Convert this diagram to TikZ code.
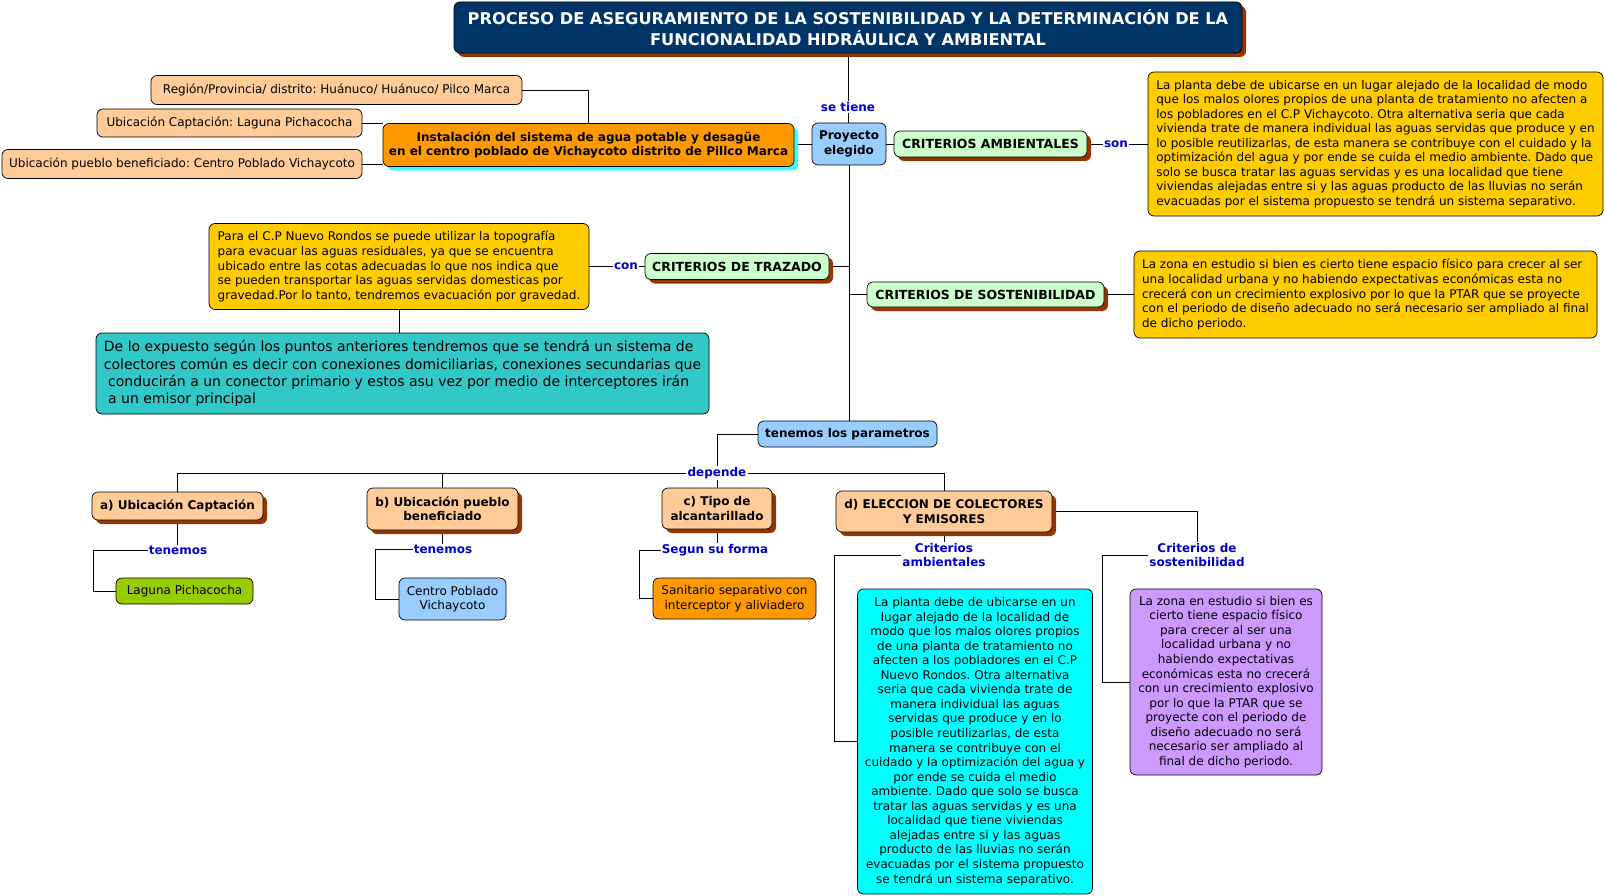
\documentclass[tikz,border=0pt]{standalone}
\usepackage{fontspec}
\setmainfont{DejaVu Sans}
\usetikzlibrary{shadows,backgrounds,calc}
\frenchspacing
\definecolor{navy}{HTML}{003366}
\definecolor{peach}{HTML}{FFCC99}
\definecolor{orng}{HTML}{FF9900}
\definecolor{lblue}{HTML}{99CCFF}
\definecolor{lgreen}{HTML}{CCFFCC}
\definecolor{gold}{HTML}{FFCC00}
\definecolor{tealc}{HTML}{33C8C8}
\definecolor{ygreen}{HTML}{99CC00}
\definecolor{cyanc}{HTML}{00FFFF}
\definecolor{purp}{HTML}{CC99FF}
\definecolor{shbrown}{HTML}{993300}
\definecolor{shcyan}{HTML}{33FFFF}
\definecolor{lblcol}{HTML}{0000CC}
\newcommand{\ftxt}{\fontsize{12}{14.55}\selectfont\frenchspacing}
\newcommand{\fbig}{\fontsize{14}{17.1}\selectfont\frenchspacing}
\newcommand{\fbold}{\fontsize{12}{14.5}\selectfont\bfseries}
\newcommand{\fcaps}{\fontsize{12.5}{14.5}\selectfont\bfseries}
\newcommand{\ftitle}{\fontsize{16.2}{20.5}\selectfont\bfseries}
\newcommand{\flbl}{\fontsize{12}{14.3}\selectfont\bfseries}
\tikzset{
  box/.style={draw=black, line width=0.7pt, rounded corners=6pt, align=center, inner sep=2pt, font=\fbold},
  tbox/.style={box, font=\ftxt},
  bshadow/.style={drop shadow={shadow xshift=4pt, shadow yshift=-4pt, fill=shbrown, opacity=1}},
  cshadow/.style={drop shadow={shadow xshift=4pt, shadow yshift=-4pt, fill=shcyan, opacity=1}},
  lbl/.style={fill=white, text=lblcol, font=\flbl, inner sep=1pt, align=center},
  link/.style={draw=black, line width=0.7pt},
}
\begin{document}
\begin{tikzpicture}[x=1pt,y=-1pt]
\useasboundingbox (0,0) rectangle (1605,896);
% title
\node[box, fill=navy, text=white, font=\ftitle, minimum width=788pt, minimum height=51pt, bshadow] (title) at (848,27.5)
 {PROCESO DE ASEGURAMIENTO DE LA SOSTENIBILIDAD Y LA DETERMINACIÓN DE LA\\FUNCIONALIDAD HIDRÁULICA Y AMBIENTAL};
% top left
\node[tbox, fill=peach, minimum width=371pt, minimum height=29pt] (region) at (336.5,90) {Región/Provincia/ distrito: Huánuco/ Huánuco/ Pilco Marca};
\node[tbox, fill=peach, minimum width=265pt, minimum height=28pt] (ucapt) at (229.5,123) {Ubicación Captación: Laguna Pichacocha};
\node[tbox, fill=peach, minimum width=360pt, minimum height=29pt] (upueblo) at (182,164) {Ubicación pueblo beneficiado: Centro Poblado Vichaycoto};
\node[box, fill=orng, minimum width=411pt, minimum height=43pt, cshadow] (instal) at (588.5,145)
 {Instalación del sistema de agua potable y desagüe\\en el centro poblado de Vichaycoto distrito de Pillco Marca};
\node[box, fill=lblue, minimum width=74pt, minimum height=42pt] (proy) at (849,144) {Proyecto\\elegido};
\node[box, fill=lgreen, font=\fcaps, minimum width=193pt, minimum height=26pt, bshadow] (critamb) at (990.5,144) {CRITERIOS AMBIENTALES};
\node[tbox, fill=gold, align=left, minimum width=455pt, minimum height=144pt] (ambtext) at (1375.5,144)
 {La planta debe de ubicarse en un lugar alejado de la localidad de modo\\
  que los malos olores propios de una planta de tratamiento no afecten a\\
  los pobladores en el C.P Vichaycoto. Otra alternativa seria que cada\\
  vivienda trate de manera individual las aguas servidas que produce y en\\
  lo posible reutilizarlas, de esta manera se contribuye con el cuidado y la\\
  optimización del agua y por ende se cuida el medio ambiente. Dado que\\
  solo se busca tratar las aguas servidas y es una localidad que tiene\\
  viviendas alejadas entre si y las aguas producto de las lluvias no serán\\
  evacuadas por el sistema propuesto se tendrá un sistema separativo.};
% middle
\node[box, fill=lgreen, font=\fcaps, minimum width=184pt, minimum height=26pt, bshadow] (crittraz) at (737,266.5) {CRITERIOS DE TRAZADO};
\node[tbox, fill=gold, align=left, minimum width=380pt, minimum height=86pt] (traztext) at (399,266.5)
 {Para el C.P Nuevo Rondos se puede utilizar la topografía\\
  para evacuar las aguas residuales, ya que se encuentra\\
  ubicado entre las cotas adecuadas lo que nos indica que\\
  se pueden transportar las aguas servidas domesticas por\\
  gravedad.Por lo tanto, tendremos evacuación por gravedad.};
\node[box, fill=lgreen, font=\fcaps, minimum width=237pt, minimum height=25pt, bshadow] (critsost) at (985.5,294.5) {CRITERIOS DE SOSTENIBILIDAD};
\node[tbox, fill=gold, align=left, minimum width=463pt, minimum height=87pt] (sosttext) at (1365.5,294.5)
 {La zona en estudio si bien es cierto tiene espacio físico para crecer al ser\\
  una localidad urbana y no habiendo expectativas económicas esta no\\
  crecerá con un crecimiento explosivo por lo que la PTAR que se proyecte\\
  con el periodo de diseño adecuado no será necesario ser ampliado al final\\
  de dicho periodo.};
\node[box, fill=tealc, font=\fbig, align=left, minimum width=613pt, minimum height=81pt] (teal) at (402.5,373.5)
 {De lo expuesto según los puntos anteriores tendremos que se tendrá un sistema de\\
  colectores común es decir con conexiones domiciliarias, conexiones secundarias que\\
  \hspace{0.3em}conducirán a un conector primario y estos asu vez por medio de interceptores irán\\
  \hspace{0.3em}a un emisor principal};
\node[box, fill=lblue, minimum width=179pt, minimum height=26pt] (param) at (847.5,434) {tenemos los parametros};
% level parameters
\node[box, fill=peach, minimum width=171pt, minimum height=28pt, bshadow] (pa) at (177.5,506) {a) Ubicación Captación};
\node[box, fill=peach, minimum width=151pt, minimum height=42pt, bshadow] (pb) at (442.5,509) {b) Ubicación pueblo\\beneficiado};
\node[box, fill=peach, minimum width=110pt, minimum height=41pt, bshadow] (pc) at (717,508.5) {c) Tipo de\\alcantarillado};
\node[box, fill=peach, minimum width=216pt, minimum height=41pt, bshadow] (pd) at (944,511.5) {d) ELECCION DE COLECTORES\\Y EMISORES};
% leaves
\node[tbox, fill=ygreen, minimum width=137pt, minimum height=26pt] (laguna) at (184.5,591) {Laguna Pichacocha};
\node[tbox, fill=lblue, minimum width=107pt, minimum height=42pt] (centro) at (452.5,599) {Centro Poblado\\Vichaycoto};
\node[tbox, fill=orng, minimum width=163pt, minimum height=41pt] (sanit) at (734.5,598.5) {Sanitario separativo con\\interceptor y aliviadero};
\node[tbox, fill=cyanc, minimum width=235pt, minimum height=305pt] (cyanbox) at (975,741.5)
 {La planta debe de ubicarse en un\\
  lugar alejado de la localidad de\\
  modo que los malos olores propios\\
  de una planta de tratamiento no\\
  afecten a los pobladores en el C.P\\
  Nuevo Rondos. Otra alternativa\\
  seria que cada vivienda trate de\\
  manera individual las aguas\\
  servidas que produce y en lo\\
  posible reutilizarlas, de esta\\
  manera se contribuye con el\\
  cuidado y la optimización del agua y\\
  por ende se cuida el medio\\
  ambiente. Dado que solo se busca\\
  tratar las aguas servidas y es una\\
  localidad que tiene viviendas\\
  alejadas entre si y las aguas\\
  producto de las lluvias no serán\\
  evacuadas por el sistema propuesto\\
  se tendrá un sistema separativo.};
\node[tbox, fill=purp, minimum width=192pt, minimum height=186pt] (purple) at (1226,682)
 {La zona en estudio si bien es\\
  cierto tiene espacio físico\\
  para crecer al ser una\\
  localidad urbana y no\\
  habiendo expectativas\\
  económicas esta no crecerá\\
  con un crecimiento explosivo\\
  por lo que la PTAR que se\\
  proyecte con el periodo de\\
  diseño adecuado no será\\
  necesario ser ampliado al\\
  final de dicho periodo.};
% labels
\node[lbl] (setiene) at (848,107) {se tiene};
\node[lbl] (son) at (1116,144) {son};
\node[lbl] (con) at (626,266.5) {con};
\node[lbl] (depende) at (717,473) {depende};
\node[lbl] (ten1) at (178,550) {tenemos};
\node[lbl] (ten2) at (443,549) {tenemos};
\node[lbl] (segun) at (715,550) {Segun su forma};
\node[lbl] (critambl) at (944,555) {Criterios\\ambientales};
\node[lbl] (critsostl) at (1197,555) {Criterios de\\sostenibilidad};
% connectors
\begin{scope}[on background layer]
\draw[link] (title.south) -- (title.south |- proy.north);
\draw[link] (region.east) -| (instal.north);
\draw[link] (ucapt.east) -- (ucapt.east -| instal.west);
\draw[link] (upueblo.east) -- (upueblo.east -| instal.west);
\draw[link] (instal.east |- proy.west) -- (proy.west);
\draw[link] (proy.east) -- (critamb.west);
\draw[link] (critamb.east) -- (son.west);
\draw[link] (son.east) -- (ambtext.west);
\draw[link] (proy.south) -- (proy.south |- param.north);
\draw[link] (crittraz.east) -- (crittraz.east -| proy.south);
\draw[link] (critsost.west) -- (critsost.west -| proy.south);
\draw[link] (critsost.east) -- (sosttext.west);
\draw[link] (traztext.east) -- (con.west);
\draw[link] (con.east) -- (crittraz.west);
\draw[link] (traztext.south) -- (traztext.south |- teal.north);
\draw[link] (param.west) -| (depende.north);
\draw[link] (depende.south) -- (pc.north);
\draw[link] (depende.west) -| (pa.north);
\draw[link] (depende.west) -| (pb.north);
\draw[link] (depende.east) -| (pd.north);
\draw[link] (pa.south) -- (pa.south |- ten1.north);
\draw[link] (ten1.west) -| ([xshift=-22pt]laguna.west) -- (laguna.west);
\draw[link] (pb.south) -- (pb.south |- ten2.north);
\draw[link] (ten2.west) -| ([xshift=-23pt]centro.west) -- (centro.west);
\draw[link] (pc.south) -- (pc.south |- segun.north);
\draw[link] (segun.west) -| ([xshift=-13pt]sanit.west) -- (sanit.west);
\draw[link] (pd.south) -- (critambl.north);
\draw[link] (critambl.west) -| ([xshift=-23pt]cyanbox.west) -- (cyanbox.west);
\draw[link] (pd.east) -| (critsostl.north);
\draw[link] (critsostl.west) -| ([xshift=-27pt]purple.west) -- (purple.west);
\end{scope}
\end{tikzpicture}
\end{document}
